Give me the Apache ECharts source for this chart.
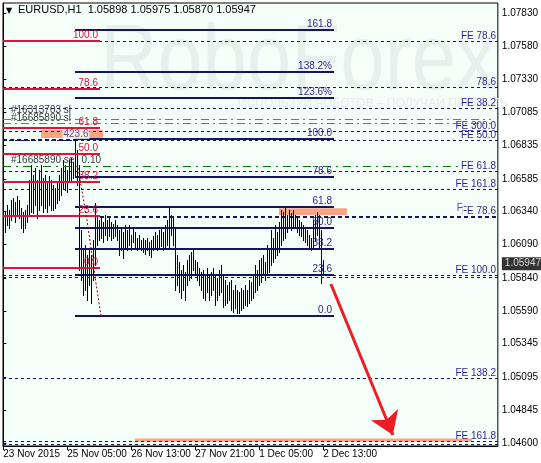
<!DOCTYPE html>
<html>
<head>
<meta charset="utf-8">
<script src="https://cdn.jsdelivr.net/npm/echarts@6/dist/echarts.min.js"></script>
<style>
html,body{margin:0;padding:0;background:#fff}
#chart{width:541px;height:463px}
</style>
</head>
<body>
<div id="chart"></div>
<script>
// EURUSD H1, bars (high / low per hour)
var symbolName = 'EURUSD,H1';
var lastOHLC = [1.05898, 1.05975, 1.05870, 1.05947];

var highs = [
  1.06313,1.06336,1.06388,1.06351,1.06426,1.06441,1.06411,1.06456,1.06426,1.06366,
  1.06336,1.06351,1.06388,1.06576,1.06689,1.06614,1.06667,1.06576,1.06652,1.06689,
  1.06591,1.06614,1.06561,1.06607,1.06576,1.06539,1.06516,1.06561,1.06614,1.06667,
  1.06727,1.06689,1.06652,1.06727,1.06742,1.06712,1.06885,1.06802,1.06689,1.06200,
  1.06050,1.06088,1.06012,1.06050,1.06012,1.06125,1.06403,1.06313,1.06276,1.06291,
  1.06261,1.06313,1.06276,1.06291,1.06261,1.06246,1.06276,1.06238,1.06200,1.06215,
  1.06185,1.06238,1.06200,1.06238,1.06163,1.06215,1.06185,1.06140,1.06163,1.06125,
  1.06140,1.06125,1.06140,1.06110,1.06125,1.06155,1.06185,1.06163,1.06200,1.06215,
  1.06185,1.06238,1.06276,1.06373,1.06313,1.06291,1.06215,1.06012,1.05960,1.05900,
  1.05937,1.05885,1.05975,1.06012,1.06035,1.06050,1.05975,1.05960,1.05915,1.05885,
  1.05900,1.05862,1.05915,1.05862,1.05885,1.05915,1.05862,1.05839,1.05900,1.05937,
  1.05862,1.05824,1.05787,1.05809,1.05824,1.05749,1.05787,1.05749,1.05734,1.05764,
  1.05749,1.05787,1.05749,1.05824,1.05809,1.05862,1.05937,1.05900,1.05975,1.05990,
  1.06012,1.05960,1.06088,1.06050,1.06200,1.06140,1.06238,1.06185,1.06261,1.06351,
  1.06336,1.06366,1.06313,1.06351,1.06328,1.06351,1.06313,1.06291,1.06276,1.06261,
  1.06238,1.06215,1.06200,1.06163,1.06140,1.06276,1.06313,1.06336,1.06313,1.06200,
  1.05975
];
var lows = [
  1.06148,1.06185,1.06238,1.06215,1.06276,1.06313,1.06261,1.06321,1.06291,1.06215,
  1.06185,1.06215,1.06261,1.06313,1.06336,1.06328,1.06388,1.06291,1.06351,1.06388,
  1.06336,1.06366,1.06336,1.06388,1.06351,1.06351,1.06366,1.06403,1.06426,1.06464,
  1.06516,1.06501,1.06486,1.06576,1.06561,1.06591,1.06614,1.06539,1.05900,1.05824,
  1.05712,1.05749,1.05674,1.05787,1.05651,1.05824,1.05937,1.06088,1.06125,1.06140,
  1.06110,1.06163,1.06125,1.06155,1.06125,1.06140,1.06155,1.06125,1.06012,1.06050,
  1.05990,1.06065,1.06050,1.06088,1.06050,1.06110,1.06065,1.06050,1.06065,1.06050,
  1.06035,1.06020,1.06050,1.06012,1.05997,1.06050,1.06065,1.06050,1.06073,1.06080,
  1.06050,1.06065,1.06088,1.06073,1.06163,1.06088,1.05749,1.05787,1.05734,1.05689,
  1.05749,1.05674,1.05787,1.05824,1.05839,1.05900,1.05862,1.05824,1.05787,1.05749,
  1.05689,1.05674,1.05734,1.05674,1.05712,1.05749,1.05636,1.05674,1.05712,1.05734,
  1.05621,1.05636,1.05651,1.05674,1.05599,1.05584,1.05614,1.05576,1.05576,1.05599,
  1.05614,1.05636,1.05629,1.05651,1.05674,1.05689,1.05734,1.05749,1.05787,1.05809,
  1.05862,1.05824,1.05862,1.05885,1.05937,1.05960,1.05990,1.06012,1.06035,1.06088,
  1.06125,1.06140,1.06185,1.06215,1.06200,1.06231,1.06215,1.06185,1.06163,1.06155,
  1.06125,1.06110,1.06088,1.06065,1.06050,1.06065,1.06125,1.06163,1.06065,1.05802,
  1.05870
];

var yTicks = [1.07830,1.07580,1.07330,1.07085,1.06835,1.06585,1.06340,1.06090,
              1.05840,1.05590,1.05345,1.05095,1.04845,1.04600];
var timeLabels = ['23 Nov 2015','25 Nov 05:00','26 Nov 13:00','27 Nov 21:00','1 Dec 05:00','2 Dec 13:00'];
var labelStep = 32;

// blue fibo (right), red fibo (left)
var blueFibLabels = ['161.8','138.2%','123.6%','100.0','78.6','61.8','50.0','38.2','23.6','0.0'];
var blueFibPrices = [1.07704,1.07391,1.07195,1.06882,1.06601,1.06376,1.06215,1.06060,1.05862,1.05556];
var blueFibFrom = 35.9, blueFibTo = 165.4;

var redFibLabels = ['100.0','78.6','61.8','50.0','38.2','23.6','0.0'];
var redFibPrices = [1.07624,1.07258,1.06965,1.06770,1.06564,1.06306,1.05912];
var redFibFrom = -0.15, redFibTo = 48.4;

// fibo expansion levels across the whole chart
var feLabels = ['FE 78.6','78.6','FE 38.2','FE 300.0','FE 50.0','FE 61.8','FE 161.8','FE 100.0','','FE 138.2','FE 161.8',''];
var fePrices = [1.07619,1.07274,1.07116,1.06945,1.06875,1.06644,1.06509,1.05860,1.05845,1.05085,1.04611,1.04591];
var boldLabels = ['FE 78.6',''];
var boldPrices = [1.06300, 1.06875];
var boldFrom = [48.4, -0.15], boldTo = [247.35, 36];

// orders
var slPrices = [1.07035, 1.07005];
var slTo = 243.85;
var orderPrice = 1.06682, orderTo = 228;

var trendPts = [[37.35,1.06667],[41.85,1.06276],[46.35,1.05802],[48.85,1.05554]];
var arrowPts = [[163.85,1.05794],[194.85,1.04659]];

var zones = [
  [[18.85,1.06952],[49.85,1.06892]],
  [[137.85,1.06364],[171.85,1.06313]],
  [[65.85,1.04632],[234.35,1.04610]]
];

var notes = [
  {name:'#16313703 sl', value:[3.35,1.07100]},
  {name:'#16685890 sl', value:[3.35,1.07043]},
  {name:'#16685890 sell 0.10', value:[3.35,1.06725]}
];
var fibNotes = [
  {name:'423.6', value:[36.35,1.06922]},
  {name:'F', value:[228.3,1.06360]}
];

var yMin = 1.04576, yMax = 1.07907;
var xMin = -0.15, xMax = 247.35;

var NAVY = '#141460', LBL = '#2a1f8c', RED = '#dc143c', BG = '#f5fffa', SALMON = '#fca584';
var FONT = 'Liberation Sans, Arial, sans-serif';

var chart = echarts.init(document.getElementById('chart'), null, {renderer:'canvas'});

var tickIdx = timeLabels.map(function(_, i){ return i * labelStep; });
var bars = highs.map(function(h, i){ return [i, h, lows[i]]; });

function renderBar(params, api){
  var a = api.coord([api.value(0), api.value(1)]);
  var b = api.coord([api.value(0), api.value(2)]);
  var x = Math.round(a[0]) + 0.5;
  return {
    type:'line',
    shape:{x1:x, y1:Math.round(a[1]), x2:x, y2:Math.round(b[1]) + 1},
    style:{stroke:'#000', lineWidth:1}
  };
}

// horizontal level, snapped to the pixel grid, label at its right end
function levelRenderer(lineStyle, labels, labelColor, labelBg){
  return function(params, api){
    var cs = params.coordSys;
    var x1 = Math.max(api.coord([api.value(0), yMin])[0], cs.x);
    var x2 = Math.min(api.coord([api.value(1), yMin])[0], cs.x + cs.width);
    var w = lineStyle.lineWidth;
    var y = Math.round(api.coord([xMin, api.value(2)])[1]) + (w % 2 ? 0.5 : 0);
    var kids = [{type:'line', shape:{x1:Math.round(x1), y1:y, x2:Math.round(x2), y2:y},
                 style:echarts.util.extend({}, lineStyle)}];
    var t = labels ? labels[params.dataIndex] : '';
    if (t) {
      kids.push({type:'text', z2:10, style:{text:t, x:Math.round(x2) - 2, y:Math.round(y) - 1,
        align:'right', verticalAlign:'bottom', fill:labelColor, font:'10px ' + FONT,
        backgroundColor:labelBg || null}});
    }
    return {type:'group', children:kids};
  };
}

function levelSeries(data, z, lineStyle, labels, labelColor, labelBg){
  return {type:'custom', z:z, silent:true, data:data, encode:{x:[0,1], y:2},
          renderItem:levelRenderer(lineStyle, labels, labelColor, labelBg)};
}

var option = {
  animation:false,
  backgroundColor:'#fff',
  textStyle:{fontFamily:FONT},
  grid:{left:3, right:43, top:3, bottom:17, show:true, backgroundColor:BG, borderColor:'#000', borderWidth:1},
  xAxis:{
    type:'value', min:xMin, max:xMax,
    splitLine:{show:false},
    axisLine:{lineStyle:{color:'#000'}},
    axisTick:{customValues:tickIdx, length:4, lineStyle:{color:'#000'}},
    axisLabel:{customValues:tickIdx, align:'left', margin:3, fontSize:10, color:'#000', fontFamily:FONT,
      formatter:function(v){ return timeLabels[Math.round(v / labelStep)]; }}
  },
  yAxis:{
    type:'value', position:'right', min:yMin, max:yMax,
    splitLine:{show:false},
    axisLine:{show:true, lineStyle:{color:'#000'}},
    axisTick:{show:true, customValues:yTicks, length:3, lineStyle:{color:'#000'}},
    axisLabel:{customValues:yTicks, margin:4, fontSize:10, color:'#000', fontFamily:FONT,
      formatter:function(v){ return v.toFixed(5); }}
  },
  graphic:[
    {type:'text', z:1, left:100, top:18, silent:true, scaleX:0.87,
     style:{text:'RoboForex', font:'92px ' + FONT, fill:'#e4f1ec'}},
    {type:'text', z:1, left:238, top:98, silent:true,
     style:{text:'ИСПОЛЬЗУЙ РОБОТОВ – ПОЛУЧАЙ ПРИБЫЛЬ', font:'12px ' + FONT, fill:'#e2ede9'}},
    {type:'text', z:50, left:6, top:7,
     style:{text:'▼', font:'8px DejaVu Sans', fill:'#000'}},
    {type:'text', z:50, left:18, top:4,
     style:{text:symbolName + '  ' + lastOHLC.map(function(v){ return v.toFixed(5); }).join(' '),
            font:'11px ' + FONT, fill:'#000'}}
  ],
  series:[
    {
      type:'line', data:[], z:1, silent:true,
      markArea:{silent:true, itemStyle:{color:SALMON},
        data:zones.map(function(z){ return [{coord:z[0]},{coord:z[1]}]; })}
    },
    {
      type:'scatter', data:notes, z:1, symbolSize:0, silent:true,
      label:{show:true, position:'right', distance:0, formatter:'{b}', color:'#000', fontSize:10,
             backgroundColor:BG, padding:[0,1]}
    },
    {
      type:'custom', data:bars, z:2, renderItem:renderBar, silent:true,
      encode:{x:0, y:[1,2]}
    },
    levelSeries(fePrices.map(function(p){ return [xMin, xMax, p]; }), 3,
      {stroke:NAVY, lineWidth:1, lineDash:[3,3]}, feLabels, LBL),
    levelSeries(slPrices.map(function(p){ return [xMin, slTo, p]; }), 3,
      {stroke:'#ff4500', lineWidth:1, lineDash:[8,4,2,4]}),
    levelSeries([[xMin, orderTo, orderPrice]], 3,
      {stroke:'#008000', lineWidth:1, lineDash:[8,5,2,5]}),
    levelSeries(boldPrices.map(function(p, i){ return [boldFrom[i], boldTo[i], p]; }), 4,
      {stroke:NAVY, lineWidth:2, lineDash:[4,3]}, boldLabels, LBL, BG),
    levelSeries(blueFibPrices.map(function(p){ return [blueFibFrom, blueFibTo, p]; }), 4,
      {stroke:NAVY, lineWidth:2}, blueFibLabels, LBL),
    levelSeries(redFibPrices.map(function(p){ return [redFibFrom, redFibTo, p]; }), 4,
      {stroke:RED, lineWidth:2}, redFibLabels, RED),
    {
      type:'line', data:trendPts, z:4, symbol:'none', silent:true,
      lineStyle:{color:'#8b0000', width:1, type:[2,2]}
    },
    {
      type:'scatter', data:fibNotes, z:5, symbolSize:0, silent:true,
      label:{show:true, position:'inside', formatter:'{b}', color:LBL, fontSize:10,
             backgroundColor:BG, padding:[0,1]}
    },
    {
      type:'scatter', z:6, silent:true, clip:false, symbolSize:0,
      data:[[xMax, lastOHLC[3]]],
      label:{show:true, position:'right', distance:4, color:'#fff', backgroundColor:'#000',
             padding:[2,3,1,3], fontSize:10, fontFamily:FONT,
             formatter:function(p){ return p.value[1].toFixed(5); }}
    },
    {
      type:'lines', coordinateSystem:'cartesian2d', z:6, silent:true,
      symbol:['none','arrow'], symbolSize:[0,22],
      lineStyle:{color:'#ee1c25', width:3, opacity:1},
      data:[{coords:arrowPts}]
    }
  ]
};

chart.setOption(option);
</script>
</body>
</html>
